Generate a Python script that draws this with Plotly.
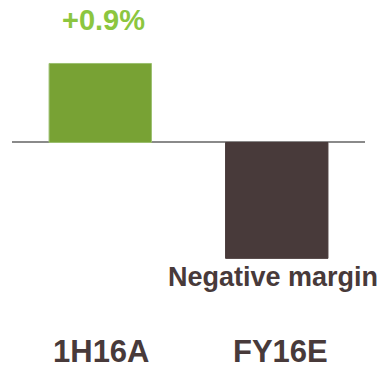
import plotly.graph_objects as go

categories = ["1H16A", "FY16E"]
values = [0.9, -1.32]
bar_colors = ["#78A234", "#483A3A"]
value_labels = ["+0.9%", "Negative margin"]
label_colors = ["#8CC63F", "#483A3A"]

fig = go.Figure()
fig.add_trace(go.Bar(
    x=categories, y=values,
    marker=dict(color=bar_colors, line=dict(color=["#9CC070", "#483A3A"], width=1)),
    width=0.58, hoverinfo="skip",
))

font_family = "Liberation Sans, Arial, sans-serif"

fig.update_layout(
    width=378, height=366,
    margin=dict(l=12, r=13, t=0, b=0),
    paper_bgcolor="white", plot_bgcolor="white",
    showlegend=False,
    xaxis=dict(visible=False, range=[-0.5, 1.5]),
    yaxis=dict(range=[-2.546, 1.623], showgrid=False, showticklabels=False,
               zeroline=True, zerolinecolor="#8A8A8A", zerolinewidth=2),
)

H = 366.0
def py(pix):
    return 1 - pix / H

fig.add_annotation(x=categories[0], y=py(20), yref="paper", text="<b>%s</b>" % value_labels[0],
                   showarrow=False, xshift=3,
                   font=dict(size=29, color=label_colors[0], family=font_family),
                   xanchor="center", yanchor="middle")
fig.add_annotation(x=categories[1], y=py(277), yref="paper", text="<b>%s</b>" % value_labels[1],
                   showarrow=False, xshift=-4,
                   font=dict(size=27, color=label_colors[1], family=font_family),
                   xanchor="center", yanchor="middle")
for c, s in zip(categories, [1, 4]):
    fig.add_annotation(x=c, y=py(351), yref="paper", text="<b>%s</b>" % c, showarrow=False, xshift=s,
                       font=dict(size=31, color="#483A3A", family=font_family),
                       xanchor="center", yanchor="middle")

fig.write_html("out.html")
